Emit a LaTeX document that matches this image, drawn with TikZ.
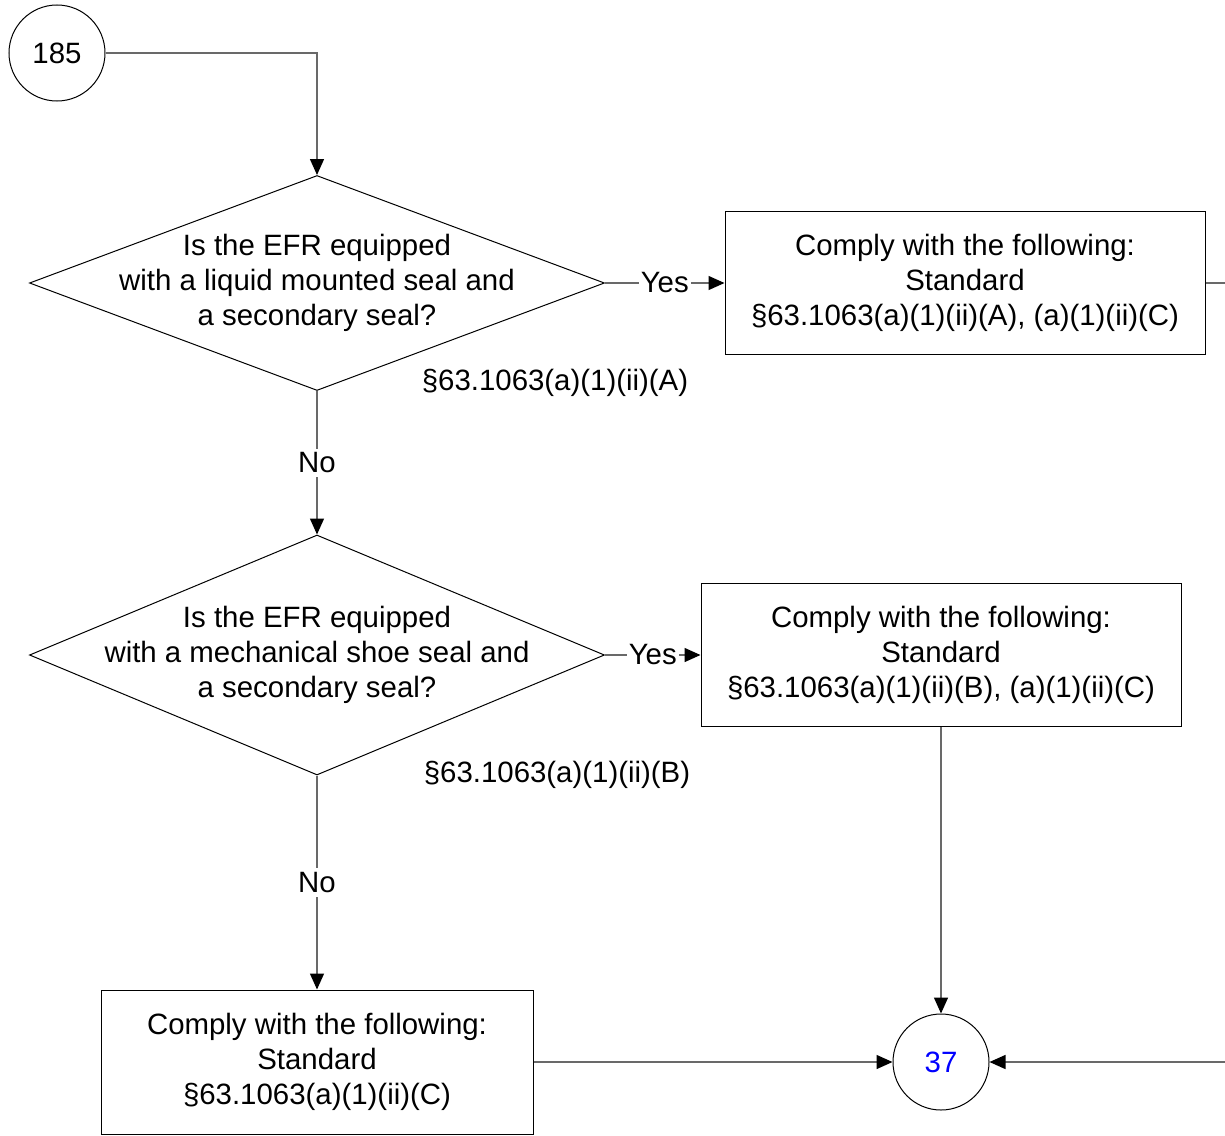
\documentclass[tikz,border=0pt]{standalone}
\usepackage{fontspec}
\setmainfont{Liberation Sans}
\usetikzlibrary{shapes.geometric,arrows.meta}
\definecolor{linegray}{RGB}{105,105,105}
\definecolor{refblue}{RGB}{0,0,255}

\begin{document}
\begin{tikzpicture}
 			[
 			x=0.5pt, y=-0.5pt,
 			font=\fontsize{14.7pt}{17.5pt}\selectfont,
 			box/.style={draw, line width=0.5pt, minimum width=240pt, minimum height=71.5pt,
 				inner sep=0pt, align=center},
 			decision/.style={diamond, draw, line width=0.5pt, inner sep=0pt},
 			conn/.style={circle, draw, line width=0.5pt, minimum size=48pt, inner sep=0pt},
 			tag/.style={fill=white, inner xsep=1pt, inner ysep=2pt},
 			line/.style={draw=linegray, line width=0.7pt},
 			>={Triangle[length=8pt,width=7pt,color=black]}]
 			\useasboundingbox (0,0) rectangle (1225,1135);
 			\node (c185) [conn] at (57,53) {185};
 			\node (d1) [decision, minimum width=287.5pt, minimum height=107.5pt] at (317,283) {};
 			\node (d1text) [align=center] at (d1) {Is the EFR equipped\\with a liquid mounted seal and\\a secondary seal?};
 			\node (b1) [box] at (965,283) {Comply with the following:\\Standard\\§63.1063(a)(1)(ii)(A), (a)(1)(ii)(C)};
 			\node (refA) at (555,383) {§63.1063(a)(1)(ii)(A)};
 			\node (d2) [decision, minimum width=287.5pt, minimum height=120pt] at (317,655) {};
 			\node (d2text) [align=center] at (d2) {Is the EFR equipped\\with a mechanical shoe seal and\\a secondary seal?};
 			\node (b2) [box] at (941,655) {Comply with the following:\\Standard\\§63.1063(a)(1)(ii)(B), (a)(1)(ii)(C)};
 			\node (refB) at (557,775) {§63.1063(a)(1)(ii)(B)};
 			\node (b3) [box, minimum width=216pt, minimum height=72pt] at (317,1062) {Comply with the following:\\Standard\\§63.1063(a)(1)(ii)(C)};
 			\node (c37) [conn, text=refblue] at (941,1062) {37};
 			\coordinate (offpage) at (1240,1062);
 			\draw[line,->]   (c185) -| (d1.north);
 			\draw[line,->]   (d1.east) -- node[tag] {Yes} (b1.west);
 			\draw[line,->]   (d1.south) -- node[tag] {No} (d2.north);
 			\draw[line,->]   (d2.east) -- node[tag] {Yes} (b2.west);
 			\draw[line,->]   (d2.south) -- node[tag] {No} (b3.north);
 			\draw[line,->]   (b2) -- (c37);
 			\draw[line,->]   (b3) -- (c37);
 			\draw[line,->]   (b1.east) -| (offpage) -- (c37);
 		\end{tikzpicture}
\end{document}
